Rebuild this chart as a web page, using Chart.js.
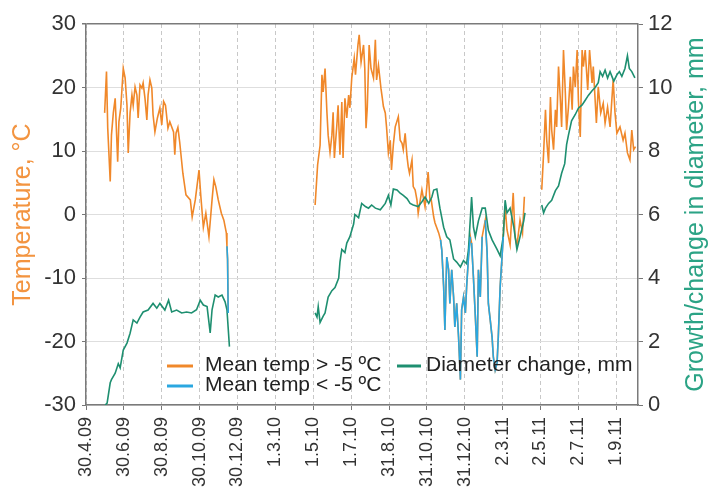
<!DOCTYPE html>
<html lang="en">
<head>
<meta charset="UTF-8">
<title>Temperature and diameter change</title>
<script src="https://cdn.jsdelivr.net/npm/chart.js"></script>
<style>
    body { margin: 0; background: #fff; }
    #wrap { width: 709px; height: 488px; }
</style>
</head>
<body>
<div id="wrap"><canvas id="chart" width="709" height="488"></canvas></div>
<script>
    // x values are days counted from 30.4.2009
    var tickDays = [0, 61, 122, 183, 244, 305, 366, 427, 488, 549, 610, 671, 732, 793, 854];
    var tickLabels = ['30.4.09', '30.6.09', '30.8.09', '30.10.09', '30.12.09', '1.3.10', '1.5.10', '1.7.10',
        '31.8.10', '31.10.10', '31.12.10', '2.3.11', '2.5.11', '2.7.11', '1.9.11'];

    // mean temperature, one array per season
    var tempDays09 = [30, 33, 35, 39, 41, 44, 47, 51, 53, 56, 60, 63, 66, 68, 71, 74, 76, 79, 82, 84, 87, 90, 92, 95, 98,
        100, 103, 106, 108, 111, 115, 119, 122, 125, 128, 132, 135, 141, 143, 145, 148, 151, 156, 161, 168, 171, 176,
        182, 185, 189, 193, 198, 203, 206, 209, 213, 218, 222, 226, 227, 228, 229];
    var temp09 = [16, 22.5, 13.6, 5.2, 12.5, 16, 18.3, 8.3, 14.6, 16.8, 23, 21.5, 17.2, 9.7, 16, 18.8, 17.2, 20.1, 18.8,
        15.2, 20.4, 19.9, 20.7, 18.3, 14.9, 18.8, 21.2, 19.9, 15.7, 13, 15.2, 16.8, 14.1, 17.8, 17.2, 13.6, 14.6, 13,
        9.4, 12.8, 13.7, 11.3, 6.5, 3.1, 2.3, -0.4, 2.3, 7, 2.8, -2, 0.2, -3.5, 2.3, 5.5, 4.4, 2.3, 0.2, -0.9, -2.9, -5,
        -7, -15.5];
    var tempDays10 = [369, 373, 377, 380, 382, 385, 388, 390, 393, 396, 398, 400, 404, 406, 409, 412, 414, 417, 420, 423,
        425, 428, 432, 434, 438, 440, 443, 447, 449, 451, 453, 456, 459, 463, 466, 468, 471, 475, 477, 479,
        482, 484, 487, 490, 492, 495, 498, 503, 506, 509, 511, 514, 517, 519, 521, 525, 527, 530, 533, 535,
        541, 546, 551, 554, 556, 560, 562, 568, 571, 573, 576, 578, 581, 584, 586, 589, 592, 594, 597, 600,
        603, 605, 608, 611, 613, 616, 619, 621, 624, 627, 630, 632, 635, 638, 643, 646, 648, 651, 654, 656,
        659, 662, 664, 667, 670, 672, 675, 678, 683, 688, 691, 694, 699, 703, 706];
    var temp10 = [1.5, 7.8, 10.9, 22, 19.3, 23, 16.1, 12.5, 9.8, 12.5, 16.1, 8.9, 14.1, 17.2, 9.4, 17.7, 8.9, 18.3, 15.2, 18.8,
        16.8, 21.5, 24.6, 22, 26.7, 28.3, 24, 26.7, 23, 13.6, 16.8, 26.7, 23, 21.5, 27.5, 21.2, 23.5, 19.9, 18.5, 17,
        16, 13.8, 9.7, 11.7, 7, 11, 13.8, 15.4, 11.7, 11.2, 10.2, 12.8, 9.1, 7.5, 6.5, 8.6, 4.4, 3.9, 2.3, 0.2,
        3.9, 1.2, 6.7, 2.3, 2.3, -0.4, -1.3, -2.9, -4, -5.6, -11.4, -18.2, -6.7, -8.7, -14, -8.7, -13, -17.7, -14, -19.3,
        -26, -15, -13, -15.5, -11.4, -6.7, -3.5, -4.5, -10, -16, -22.4, -8.7, -13, -3.5, -0.9, -6, -14, -16.6, -19.3, -22.4,
        -24.5, -23.4, -19.3, -11.4, -6.7, -3.5, 1.2, -2.4, -4.8, 3.4, -3.5, -4.9, -0.9, -2.9, 2.8];
    var tempDays11 = [734, 737, 740, 742, 745, 748, 750, 753, 756, 758, 761, 764, 766, 769, 772, 774, 777, 780, 783, 785,
        788, 791, 793, 796, 799, 801, 804, 808, 811, 815, 817, 822, 825, 829, 833, 836, 840, 844, 849, 852,
        855, 860, 865, 868, 872, 876, 879, 882, 885];
    var temp11 = [3.9, 9.7, 16.5, 11.7, 8.1, 18.5, 13.3, 10.2, 16.5, 13.8, 23.3, 18, 13.8, 25.9, 19.1, 13.3, 16.9, 21.7, 16.5, 23.3,
        20.1, 25.9, 18, 12.2, 25.9, 23.3, 25.9, 19.6, 25.9, 20.7, 23.3, 14.4, 20.1, 16, 17.5, 14.4, 16.9, 13.8, 21.2, 16,
        12.8, 13.8, 11.7, 12.8, 9.7, 8.6, 13.3, 10.2, 10.7];

    // diameter change (mm), one array per season
    var diamDays09 = [31, 34, 39, 41, 47, 52, 55, 60, 66, 71, 76, 82, 87, 92, 100, 108, 114, 119, 127, 133, 138, 146, 154,
        162, 170, 178, 184, 189, 195, 200, 203, 208, 213, 219, 224, 227, 231];
    var diam09 = [0, 0.06, 0.7, 0.8, 1.0, 1.3, 1.17, 1.73, 1.95, 2.26, 2.68, 2.58, 2.77, 2.93, 2.99, 3.2, 3.05, 3.2, 2.99, 3.3,
        2.93, 2.99, 2.9, 2.93, 2.9, 3.0, 3.3, 3.15, 3.1, 2.27, 3.0, 3.46, 3.4, 3.46, 3.25, 3.0, 1.84];
    var diamDays10 = [369, 372, 374, 377, 382, 385, 390, 396, 401, 407, 409, 412, 417, 420, 425, 431, 433, 439, 444, 450,
        455, 460, 466, 474, 482, 487, 491, 495, 501, 506, 511, 517, 522, 527, 535, 541, 546, 552, 557, 560,
        565, 570, 576, 581, 586, 592, 597, 603, 608, 613, 616, 621, 624, 627, 632, 638, 643, 648, 654, 662,
        667, 672, 675, 678, 683, 689, 694, 699, 705, 707];
    var diam10 = [2.9, 2.77, 3.1, 2.6, 2.8, 2.9, 3.4, 3.6, 3.7, 4.0, 4.5, 4.9, 4.8, 5.1, 5.3, 5.7, 6.0, 5.9, 6.35, 6.25,
        6.2, 6.3, 6.2, 6.15, 6.35, 6.6, 6.3, 6.8, 6.77, 6.67, 6.6, 6.5, 6.35, 6.3, 6.25, 6.4, 6.55, 6.35, 6.55, 6.77,
        6.8, 6.2, 5.6, 5.3, 5.2, 4.6, 4.5, 4.35, 4.55, 4.45, 4.9, 6.55, 5.6, 5.3, 5.8, 6.2, 6.2, 5.5, 5.2, 4.9,
        4.7, 5.3, 6.45, 6.05, 6.2, 5.6, 4.9, 5.3, 5.8, 6.05];
    var diamDays11 = [734, 737, 740, 745, 750, 756, 761, 766, 771, 774, 777, 782, 788, 793, 799, 804, 809, 815, 820, 825,
        828, 832, 836, 840, 844, 850, 855, 859, 863, 868, 872, 875, 879, 884];
    var diam11 = [6.3, 6.05, 6.2, 6.35, 6.45, 6.75, 6.9, 7.3, 7.6, 8.2, 8.5, 8.95, 9.15, 9.35, 9.45, 9.6, 9.75, 9.9, 10.0, 10.15,
        10.5, 10.35, 10.55, 10.3, 10.5, 10.2, 10.4, 10.5, 10.35, 10.6, 11.0, 10.6, 10.5, 10.3];

    var coldLimit = -5;
    var warmColor = '#F0882A';
    var coldColor = '#2AA7E0';
    var diamColor = '#1E8F70';
    var fontFamily = '"Liberation Sans", Arial, sans-serif';

    // join seasons into one series, with a null point between them to break the line
    function joinSeasons(seasons) {
        var pts = [];
        seasons.forEach(function (s, k) {
            if (k > 0) pts.push({ x: s[0][0] - 1, y: null });
            s[0].forEach(function (d, i) {
                pts.push({ x: d, y: s[1][i] });
            });
        });
        return pts;
    }

    var tempPoints = joinSeasons([[tempDays09, temp09], [tempDays10, temp10], [tempDays11, temp11]]);
    var diamPoints = joinSeasons([[diamDays09, diam09], [diamDays10, diam10], [diamDays11, diam11]]);

    // legend drawn inside the plot, two columns like the original
    var legendSpots = [
        { ds: 0, x1: 167, x2: 193, tx: 205, y: 365 },
        { ds: 1, x1: 167, x2: 193, tx: 205, y: 385 },
        { ds: 2, x1: 397, x2: 421, tx: 426, y: 365 }
    ];

    var innerLegend = {
        id: 'innerLegend',
        afterDraw: function (chart) {
            var c = chart.ctx;
            c.save();
            c.font = '21px ' + fontFamily;
            c.textBaseline = 'middle';
            c.textAlign = 'left';
            legendSpots.forEach(function (s) {
                var ds = chart.data.datasets[s.ds];
                c.strokeStyle = ds.borderColor;
                c.lineWidth = 3;
                c.beginPath();
                c.moveTo(s.x1, s.y + 1);
                c.lineTo(s.x2, s.y + 1);
                c.stroke();
                c.fillStyle = '#222';
                c.fillText(ds.label, s.tx, s.y);
            });
            // right axis title, reads bottom to top
            c.fillStyle = '#2BA385';
            c.font = '25px ' + fontFamily;
            c.textAlign = 'center';
            c.translate(696, (chart.chartArea.top + chart.chartArea.bottom) / 2);
            c.rotate(-Math.PI / 2);
            c.fillText('Growth/change in diameter, mm', 0, 0);
            c.restore();
        }
    };

    var ctx = document.getElementById('chart').getContext('2d');
    var chart = new Chart(ctx, {
        type: 'line',
        data: {
            datasets: [{
                label: 'Mean temp > -5 ºC',
                data: tempPoints,
                yAxisID: 'y',
                borderColor: warmColor,
                borderWidth: 1.6,
                order: 2
            }, {
                label: 'Mean temp < -5 ºC',
                data: tempPoints,
                yAxisID: 'y',
                borderColor: coldColor,
                borderWidth: 1.6,
                order: 0,
                segment: {
                    borderColor: function (s) {
                        return (s.p0.parsed.y < coldLimit || s.p1.parsed.y < coldLimit) ? coldColor : 'rgba(0,0,0,0)';
                    }
                }
            }, {
                label: 'Diameter change, mm',
                data: diamPoints,
                yAxisID: 'y1',
                borderColor: diamColor,
                borderWidth: 1.6,
                order: 1
            }]
        },
        options: {
            responsive: false,
            animation: false,
            spanGaps: false,
            elements: {
                point: { radius: 0 },
                line: { tension: 0 }
            },
            layout: { padding: { top: 24, left: 0, right: 0, bottom: 0 } },
            plugins: {
                legend: { display: false },
                tooltip: { enabled: false }
            },
            scales: {
                x: {
                    type: 'linear',
                    min: 0,
                    max: 889,
                    afterBuildTicks: function (scale) {
                        scale.ticks = tickDays.map(function (d) { return { value: d }; });
                    },
                    afterFit: function (scale) { scale.height = 83; },
                    ticks: {
                        autoSkip: false,
                        maxRotation: 90,
                        minRotation: 90,
                        padding: 7,
                        color: '#333',
                        font: { family: fontFamily, size: 18 },
                        callback: function (value) {
                            var i = tickDays.indexOf(value);
                            return i >= 0 ? tickLabels[i] : '';
                        }
                    },
                    grid: {
                        color: '#c8c8c8',
                        tickLength: 5,
                        tickColor: '#777',
                        tickBorderDash: []
                    },
                    border: { color: '#7a7a7a', width: 1.5, dash: [4, 3] }
                },
                y: {
                    position: 'left',
                    min: -30,
                    max: 30,
                    afterFit: function (scale) { scale.width = 86; },
                    ticks: {
                        stepSize: 10,
                        padding: 6,
                        color: '#333',
                        font: { family: fontFamily, size: 22 }
                    },
                    grid: {
                        color: function (c) { return c.tick && c.tick.value === 30 ? '#7a7a7a' : '#dedede'; },
                        lineWidth: function (c) { return c.tick && c.tick.value === 30 ? 1.5 : 1; },
                        tickLength: 4,
                        tickColor: '#777'
                    },
                    border: { color: '#7a7a7a', width: 1.5 },
                    title: {
                        display: true,
                        text: 'Temperature, °C',
                        color: '#F39440',
                        padding: { top: 8, bottom: 0 },
                        font: { family: fontFamily, size: 25 }
                    }
                },
                y1: {
                    position: 'right',
                    min: 0,
                    max: 12,
                    afterFit: function (scale) { scale.width = 71; },
                    ticks: {
                        stepSize: 2,
                        padding: 5,
                        color: '#333',
                        font: { family: fontFamily, size: 22 }
                    },
                    grid: {
                        drawOnChartArea: false,
                        tickLength: 5,
                        tickColor: '#777'
                    },
                    border: { color: '#7a7a7a', width: 1.5 }
                }
            }
        },
        plugins: [innerLegend]
    });
</script>
</body>
</html>
